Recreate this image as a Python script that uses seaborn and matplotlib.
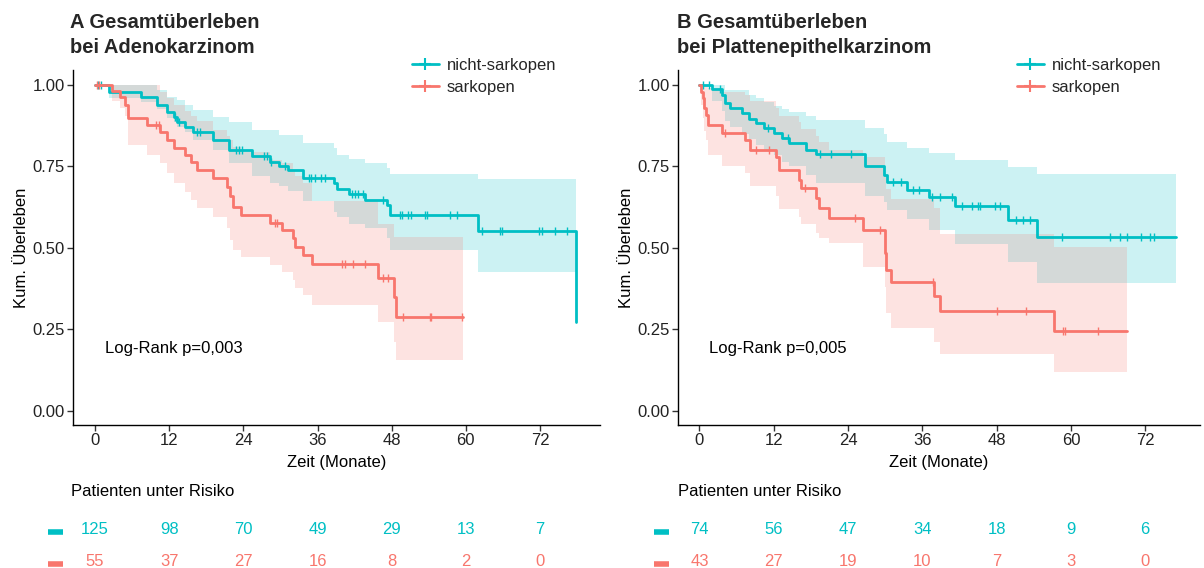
import numpy as np
import pandas as pd
import matplotlib
matplotlib.use("Agg")
import matplotlib.pyplot as plt
from matplotlib.lines import Line2D
from matplotlib import transforms
import seaborn as sns

# ---------------- data ----------------
groups = ["nicht-sarkopen", "sarkopen"]
colors = ["#00BFC4", "#F8766D"]
x_ticks = [0, 12, 24, 36, 48, 60, 72]
y_ticks = [0.00, 0.25, 0.50, 0.75, 1.00]
y_tick_labels = ["0.00", "0.25", "0.50", "0.75", "1.00"]

# Panel A (Adenokarzinom)
a_nonsarc_time = [0, 2.2, 7.5, 10.0, 11.6, 12.7, 13.2, 14.6, 15.9, 19.1, 21.6, 25.4, 28.3, 29.7,
                  31.3, 33.7, 38.6, 39.1, 41.1, 43.7, 47.2, 47.7, 61.9, 77.8]
a_nonsarc_surv = [1.0, 0.98, 0.964, 0.939, 0.918, 0.903, 0.887, 0.872, 0.857, 0.831, 0.801, 0.781,
                  0.765, 0.75, 0.739, 0.714, 0.70, 0.68, 0.667, 0.647, 0.632, 0.60, 0.553, 0.274]
a_nonsarc_upper = [1.0, 1.0, 1.0, 0.985, 0.964, 0.964, 0.955, 0.939, 0.923, 0.903, 0.887, 0.862,
                   0.862, 0.847, 0.847, 0.821, 0.806, 0.785, 0.772, 0.76, 0.745, 0.727, 0.711, 0.711]
a_nonsarc_lower = [1.0, 0.96, 0.948, 0.925, 0.90, 0.885, 0.87, 0.855, 0.831, 0.80, 0.76, 0.72,
                   0.70, 0.69, 0.675, 0.645, 0.61, 0.595, 0.575, 0.56, 0.53, 0.494, 0.425, 0.425]
a_nonsarc_cens = [0.5, 1.0, 12.9, 13.6, 16.5, 17.0, 22.8, 23.3, 23.8, 27.3, 27.8, 28.5, 30.8, 34.6,
                  35.0, 35.6, 36.5, 37.2, 41.5, 42.0, 42.6, 43.4, 46.6, 49.3, 49.7, 50.6, 51.2, 53.4,
                  53.7, 57.4, 58.5, 62.6, 65.5, 65.8, 71.9, 72.3, 74.4, 76.4]

a_sarc_time = [0, 2.7, 4.0, 4.85, 5.4, 8.4, 10.5, 11.6, 12.7, 14.6, 15.6, 16.5, 19.1, 21.3, 21.8,
               22.4, 23.7, 28.3, 30.2, 32.1, 32.4, 33.7, 35.1, 45.8, 48.3, 48.7, 59.5]
a_sarc_surv = [1.0, 0.982, 0.964, 0.94, 0.898, 0.877, 0.857, 0.831, 0.806, 0.785, 0.765, 0.739,
               0.714, 0.688, 0.66, 0.627, 0.601, 0.576, 0.555, 0.53, 0.504, 0.479, 0.451, 0.409,
               0.351, 0.289, 0.289]
a_sarc_upper = [1.0, 1.0, 1.0, 1.0, 1.0, 1.0, 0.98, 0.96, 0.94, 0.92, 0.905, 0.89, 0.862, 0.845,
                0.83, 0.81, 0.795, 0.77, 0.76, 0.74, 0.72, 0.70, 0.645, 0.575, 0.535, 0.534, 0.534]
a_sarc_lower = [1.0, 0.95, 0.93, 0.905, 0.816, 0.785, 0.76, 0.729, 0.70, 0.673, 0.647, 0.622,
                0.596, 0.56, 0.525, 0.494, 0.473, 0.448, 0.427, 0.402, 0.376, 0.355, 0.325, 0.274,
                0.213, 0.156, 0.156]
a_sarc_cens = [0.3, 0.7, 9.8, 10.3, 29.1, 29.4, 39.9, 40.4, 41.7, 43.6, 46.6, 47.4, 49.9, 54.2,
               54.4, 59.3]

# Panel B (Plattenepithelkarzinom)
b_nonsarc_time = [0, 2.0, 3.6, 4.2, 5.0, 6.9, 8.0, 9.1, 10.4, 12.0, 13.4, 14.5, 17.2, 18.8, 26.8,
                  29.8, 30.3, 33.6, 37.1, 41.3, 49.9, 54.5, 77.0]
b_nonsarc_surv = [1.0, 0.987, 0.969, 0.944, 0.928, 0.913, 0.897, 0.882, 0.867, 0.852, 0.836, 0.821,
                  0.80, 0.788, 0.751, 0.724, 0.703, 0.678, 0.655, 0.629, 0.586, 0.533, 0.533]
b_nonsarc_upper = [1.0, 1.0, 1.0, 0.985, 0.985, 0.985, 0.97, 0.96, 0.949, 0.935, 0.925, 0.918,
                   0.905, 0.893, 0.867, 0.85, 0.826, 0.806, 0.79, 0.77, 0.748, 0.727, 0.727]
b_nonsarc_lower = [1.0, 0.95, 0.92, 0.89, 0.87, 0.85, 0.835, 0.815, 0.80, 0.785, 0.765, 0.75,
                   0.725, 0.70, 0.66, 0.64, 0.617, 0.59, 0.555, 0.512, 0.458, 0.392, 0.392]
b_nonsarc_cens = [0.6, 1.6, 3.3, 11.1, 14.3, 19.4, 21.3, 24.5, 31.3, 32.5, 34.5, 35.5, 37.5, 38.8,
                  40.8, 42.4, 44.0, 45.0, 45.3, 47.7, 48.5, 51.2, 52.3, 53.4, 58.6, 66.3, 68.0,
                  69.1, 71.4, 72.8, 73.5]

b_sarc_time = [0, 0.2, 0.5, 0.8, 1.1, 1.4, 3.6, 7.3, 8.2, 12.3, 12.8, 16.1, 16.4, 18.8, 19.3, 21.0,
               26.4, 29.9, 30.1, 30.9, 37.9, 38.8, 57.2, 69.0]
b_sarc_surv = [1.0, 0.98, 0.96, 0.928, 0.908, 0.877, 0.852, 0.831, 0.80, 0.78, 0.739, 0.709, 0.683,
               0.652, 0.622, 0.591, 0.555, 0.484, 0.433, 0.397, 0.354, 0.307, 0.245, 0.245]
b_sarc_upper = [1.0, 1.0, 1.0, 1.0, 1.0, 0.99, 0.98, 0.97, 0.95, 0.93, 0.905, 0.885, 0.865, 0.845,
                0.825, 0.80, 0.78, 0.72, 0.68, 0.65, 0.622, 0.543, 0.504, 0.504]
b_sarc_lower = [1.0, 0.94, 0.90, 0.86, 0.83, 0.785, 0.75, 0.73, 0.69, 0.66, 0.62, 0.596, 0.575,
                0.545, 0.53, 0.514, 0.443, 0.38, 0.30, 0.254, 0.213, 0.175, 0.12, 0.12]
b_sarc_cens = [4.1, 9.2, 11.3, 17.0, 25.1, 29.1, 37.8, 48.0, 52.7, 58.7, 59.1, 64.4]

a_risk_nonsarc = [125, 98, 70, 49, 29, 13, 7]
a_risk_sarc = [55, 37, 27, 16, 8, 2, 0]
b_risk_nonsarc = [74, 56, 47, 34, 18, 9, 6]
b_risk_sarc = [43, 27, 19, 10, 7, 3, 0]

titles = ["A Gesamtüberleben\nbei Adenokarzinom", "B Gesamtüberleben\nbei Plattenepithelkarzinom"]
pvalues = ["Log-Rank p=0,003", "Log-Rank p=0,005"]

# ---------------- style ----------------
sns.set_theme(style="white")
plt.rcParams["font.family"] = ["Liberation Sans", "DejaVu Sans"]

W, H = 1204, 568
fig = plt.figure(figsize=(W / 100, H / 100), dpi=100)


def fr(px0, py0, px1, py1):
    return [px0 / W, 1 - py1 / H, (px1 - px0) / W, (py1 - py0) / H]


panels = [
    dict(box=(73, 70, 600, 425), xlim=(-3.56, 81.7), title_x=70, dash_x=(48, 63), leg_x=412,
         data=[(a_nonsarc_time, a_nonsarc_surv, a_nonsarc_lower, a_nonsarc_upper, a_nonsarc_cens),
               (a_sarc_time, a_sarc_surv, a_sarc_lower, a_sarc_upper, a_sarc_cens)],
         risk=[a_risk_nonsarc, a_risk_sarc]),
    dict(box=(678, 70, 1200, 425), xlim=(-3.47, 80.86), title_x=677, dash_x=(654, 669), leg_x=1017,
         data=[(b_nonsarc_time, b_nonsarc_surv, b_nonsarc_lower, b_nonsarc_upper, b_nonsarc_cens),
               (b_sarc_time, b_sarc_surv, b_sarc_lower, b_sarc_upper, b_sarc_cens)],
         risk=[b_risk_nonsarc, b_risk_sarc]),
]

for i, p in enumerate(panels):
    ax = fig.add_axes(fr(*p["box"]))
    for (t, s, lo, hi, cens), col, g in zip(p["data"], colors, groups):
        t = np.asarray(t); s = np.asarray(s)
        ax.fill_between(t, lo, hi, step="post", color=col, alpha=0.2, lw=0)
    for (t, s, lo, hi, cens), col, g in zip(p["data"], colors, groups):
        t = np.asarray(t); s = np.asarray(s)
        df = pd.DataFrame({"Zeit": t, "Surv": s})
        sns.lineplot(data=df, x="Zeit", y="Surv", ax=ax, color=col, lw=2.0,
                     drawstyle="steps-post", estimator=None, sort=False, legend=False)
        cens = np.asarray(cens)
        idx = np.searchsorted(t, cens, side="right") - 1
        ax.plot(cens, s[idx], ls="none", marker="|", ms=6, mew=1.0, color=col)

    ax.set_xlim(*p["xlim"])
    ax.set_ylim(-0.043, 1.046)
    ax.set_xticks(x_ticks)
    ax.set_xticklabels([str(v) for v in x_ticks])
    ax.set_yticks(y_ticks)
    ax.set_yticklabels(y_tick_labels)
    ax.tick_params(axis="both", which="major", direction="out", length=4, width=1,
                   color="#333333", labelsize=12, labelcolor="#222222", pad=2,
                   bottom=True, left=True)
    for side in ["top", "right"]:
        ax.spines[side].set_visible(False)
    for side in ["left", "bottom"]:
        ax.spines[side].set_color("black")
        ax.spines[side].set_linewidth(1.0)
    ax.set_xlabel("Zeit (Monate)", fontsize=12, labelpad=5, color="black")
    ax.set_ylabel("Kum. Überleben", fontsize=12, color="black")
    ax.yaxis.set_label_coords(-44 / (p["box"][2] - p["box"][0]), 0.5)
    ax.grid(False)
    ax.set_facecolor("white")

    ax.text(1.6, 0.193, pvalues[i], fontsize=12, ha="left", va="center", color="black")

    # title
    fig.text(p["title_x"] / W, 1 - 13 / H, titles[i], fontsize=14.5, fontweight="bold",
             ha="left", va="top", linespacing=1.4)

    # legend
    handles = [Line2D([], [], color=c, lw=2, marker="+", ms=8, mew=1.5) for c in colors]
    fig.legend(handles, groups, loc="upper left",
               bbox_to_anchor=(p["leg_x"] / W, 1 - 58 / H), frameon=False, fontsize=12,
               handlelength=1.6, handletextpad=0.5, labelspacing=0.42, borderaxespad=0,
               borderpad=0)

    # risk table
    fig.text((p["title_x"] + 1) / W, 1 - 492 / H, "Patienten unter Risiko", fontsize=12,
             ha="left", va="center", color="black")
    trans = transforms.blended_transform_factory(ax.transData, fig.transFigure)
    for row, (vals, col) in enumerate(zip(p["risk"], colors)):
        ypx = 530 if row == 0 else 562
        for xv, n in zip(x_ticks, vals):
            ax.text(xv, 1 - ypx / H, str(n), transform=trans, fontsize=12, color=col,
                    ha="center", va="center", clip_on=False)
        d0, d1 = p["dash_x"]
        fig.add_artist(Line2D([d0 / W, d1 / W], [1 - (ypx + 2) / H, 1 - (ypx + 2) / H],
                              transform=fig.transFigure, color=col, lw=4, solid_capstyle="butt"))

fig.savefig("out.png", dpi=100, facecolor="white")
